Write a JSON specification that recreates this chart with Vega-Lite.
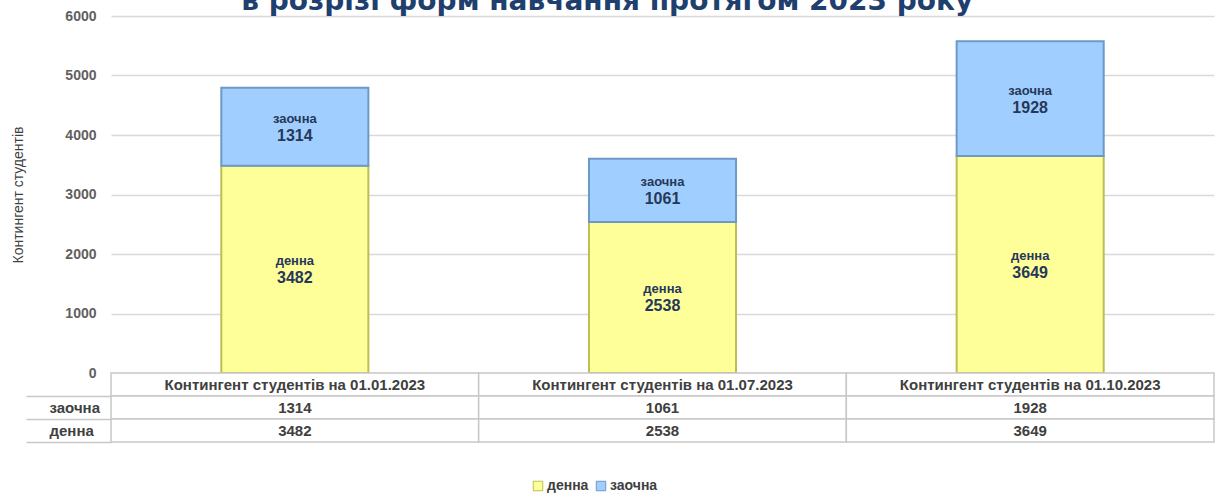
{
  "$schema": "https://vega.github.io/schema/vega-lite/v6.json",
  "padding": {"left": 11, "right": 10, "top": -12, "bottom": 5},
  "background": "white",
  "title": {"text": "в розрізі форм навчання протягом 2023 року", "font": "DejaVu Sans", "fontSize": 28, "fontWeight": "bold", "color": "#1F3F6E", "anchor": "middle", "offset": -7, "dx": -6},
  "config": {"view": {"stroke": null}, "font": "Liberation Sans"},
  "datasets": {
    "bars": [
      {"period": "Контингент студентів на 01.01.2023", "form": "денна", "value": 3482},
      {"period": "Контингент студентів на 01.01.2023", "form": "заочна", "value": 1314},
      {"period": "Контингент студентів на 01.07.2023", "form": "денна", "value": 2538},
      {"period": "Контингент студентів на 01.07.2023", "form": "заочна", "value": 1061},
      {"period": "Контингент студентів на 01.10.2023", "form": "денна", "value": 3649},
      {"period": "Контингент студентів на 01.10.2023", "form": "заочна", "value": 1928}
    ],
    "table": [
      {"period": "Контингент студентів на 01.01.2023", "row": "h", "label": "Контингент студентів на 01.01.2023"},
      {"period": "Контингент студентів на 01.07.2023", "row": "h", "label": "Контингент студентів на 01.07.2023"},
      {"period": "Контингент студентів на 01.10.2023", "row": "h", "label": "Контингент студентів на 01.10.2023"},
      {"period": "Контингент студентів на 01.01.2023", "row": "заочна", "label": "1314"},
      {"period": "Контингент студентів на 01.07.2023", "row": "заочна", "label": "1061"},
      {"period": "Контингент студентів на 01.10.2023", "row": "заочна", "label": "1928"},
      {"period": "Контингент студентів на 01.01.2023", "row": "денна", "label": "3482"},
      {"period": "Контингент студентів на 01.07.2023", "row": "денна", "label": "2538"},
      {"period": "Контингент студентів на 01.10.2023", "row": "денна", "label": "3649"}
    ]
  },
  "spacing": 0,
  "bounds": "flush",
  "resolve": {"scale": {"x": "independent", "y": "independent"}},
  "vconcat": [
    {
      "width": 1103,
      "height": 357,
      "data": {"name": "bars"},
      "encoding": {
        "x": {"field": "period", "type": "nominal", "sort": null, "axis": null, "scale": {"paddingInner": 0.6, "paddingOuter": 0.3}},
        "order": {"field": "form", "sort": "ascending"}
      },
      "layer": [
        {
          "mark": {"type": "bar", "strokeWidth": 2},
          "encoding": {
            "y": {"field": "value", "type": "quantitative", "stack": "zero", "scale": {"domain": [0, 6000]},
              "axis": {"title": "Контингент студентів", "values": [0, 1000, 2000, 3000, 4000, 5000, 6000], "format": "d", "grid": true, "gridColor": "#d9d9d9", "gridWidth": 1.5, "domain": false, "ticks": false, "labelPadding": 15, "labelFont": "Liberation Sans", "labelFontSize": 14, "labelFontWeight": "bold", "labelColor": "#606060", "titleFont": "Liberation Sans", "titleFontSize": 14, "titleFontWeight": "normal", "titleColor": "#404040", "titlePadding": 39}},
            "color": {"field": "form", "type": "nominal", "scale": {"domain": ["денна", "заочна"], "range": ["#FFFF99", "#A0CFFF"]},
              "legend": {"orient": "none", "legendX": 420, "legendY": 463, "direction": "horizontal", "title": null, "symbolType": "square", "symbolSize": 90, "symbolStrokeWidth": 1, "labelFont": "Liberation Sans", "labelFontSize": 14, "labelFontWeight": "bold", "labelColor": "#404040", "columnPadding": 5, "symbolOffset": 0, "labelOffset": 2}},
            "stroke": {"field": "form", "type": "nominal", "scale": {"domain": ["денна", "заочна"], "range": ["#BDBD55", "#6C99C8"]}, "legend": null}
          }
        },
        {
          "mark": {"type": "text", "dy": -8, "font": "Liberation Sans", "fontSize": 13, "fontWeight": "bold", "color": "#263859"},
          "encoding": {
            "y": {"field": "value", "type": "quantitative", "stack": "zero", "bandPosition": 0.5},
            "detail": {"field": "form"},
            "text": {"field": "form"}
          }
        },
        {
          "mark": {"type": "text", "dy": 9, "font": "Liberation Sans", "fontSize": 16, "fontWeight": "bold", "color": "#263859"},
          "encoding": {
            "y": {"field": "value", "type": "quantitative", "stack": "zero", "bandPosition": 0.5},
            "detail": {"field": "form"},
            "text": {"field": "value"}
          }
        }
      ]
    },
    {
      "width": 1103,
      "height": 69,
      "data": {"name": "table"},
      "encoding": {
        "x": {"field": "period", "type": "nominal", "sort": null, "axis": null, "scale": {"paddingInner": 0, "paddingOuter": 0}},
        "y": {"field": "row", "type": "nominal", "sort": ["h", "заочна", "денна"], "scale": {"paddingInner": 0, "paddingOuter": 0},
          "axis": {"title": null, "values": ["заочна", "денна"], "tickBand": "extent", "tickSize": 85, "tickColor": "#c8c8c8", "tickWidth": 1.5, "domain": false, "labelAlign": "left", "labelPadding": -23, "labelFont": "Liberation Sans", "labelFontSize": 15, "labelFontWeight": "bold", "labelColor": "#404040"}}
      },
      "layer": [
        {"mark": {"type": "rect", "fill": "white", "stroke": "#c8c8c8", "strokeWidth": 1.5}},
        {"mark": {"type": "text", "font": "Liberation Sans", "fontSize": 15, "fontWeight": "bold", "color": "#404040"}, "encoding": {"text": {"field": "label"}}}
      ]
    }
  ]
}
